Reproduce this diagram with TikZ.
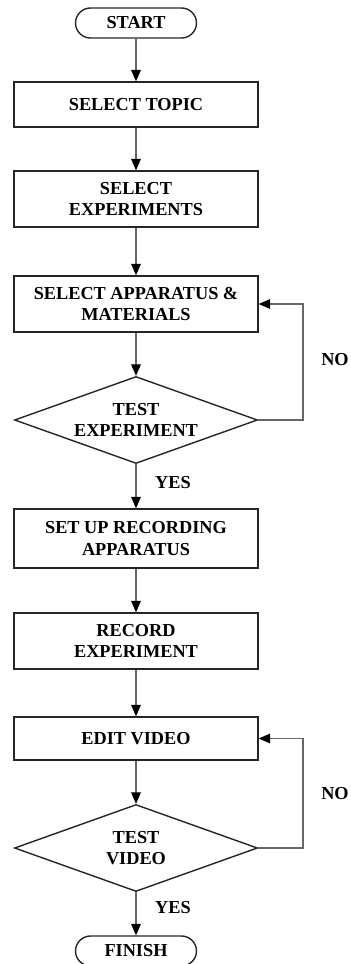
\documentclass[tikz,border=0pt]{standalone}
\usepackage{fontspec}
\setmainfont{Liberation Serif}
\usetikzlibrary{shapes.geometric,arrows.meta}

\tikzset{
  flowbox/.style={draw=black!85, line width=0.8pt, minimum width=4.88cm, inner sep=0pt, align=center, font=\fontsize{10.4}{12}\selectfont\bfseries},
  termbox/.style={flowbox, rounded corners=0.3cm, minimum width=2.42cm, minimum height=0.6cm},
  testbox/.style={flowbox, diamond, aspect=2.8, minimum width=4.86cm, minimum height=1.74cm},
  arr/.style={draw=black!60, line width=0.6pt, -{Triangle[length=6.5pt,width=5.5pt,color=black]}},
  lbl/.style={font=\fontsize{10.4}{12}\selectfont\bfseries}
}

\begin{document}
\begin{tikzpicture}
\useasboundingbox (0,0) rectangle (7,-19.28);

\node[termbox] (start) at (2.72,-0.46) {START};
\node[flowbox, minimum height=0.9cm] (topic) at (2.72,-2.09) {SELECT TOPIC};
\node[flowbox, minimum height=1.12cm] (exp) at (2.72,-3.98) {SELECT\\EXPERIMENTS};
\node[flowbox, minimum height=1.12cm] (app) at (2.72,-6.08) {SELECT APPARATUS \&\\MATERIALS};
\node[testbox] (testexp) at (2.72,-8.40) {TEST\\EXPERIMENT};
\node[flowbox, minimum height=1.18cm] (setup) at (2.72,-10.77) {SET UP RECORDING\\APPARATUS};
\node[flowbox, minimum height=1.12cm] (record) at (2.72,-12.82) {RECORD\\EXPERIMENT};
\node[flowbox, minimum height=0.86cm] (edit) at (2.72,-14.77) {EDIT VIDEO};
\node[testbox] (testvid) at (2.72,-16.96) {TEST\\VIDEO};
\node[termbox] (finish) at (2.72,-19.02) {FINISH};

\coordinate (fb1) at (6.06,-8.40);
\coordinate (fb2) at (6.06,-16.96);

\draw[arr] (start) -- (topic);
\draw[arr] (topic) -- (exp);
\draw[arr] (exp) -- (app);
\draw[arr] (app) -- (testexp);
\draw[arr] (testexp) -- (setup);
\draw[arr] (setup) -- (record);
\draw[arr] (record) -- (edit);
\draw[arr] (edit) -- (testvid);
\draw[arr] (testvid) -- (finish);
\draw[arr] (testexp.east) -- (fb1) |- (app.east);
\draw[arr] (testvid.east) -- (fb2) |- (edit.east);

\node[lbl] (no1) at (6.7,-7.2) {NO};
\node[lbl] (no2) at (6.7,-15.88) {NO};
\node[lbl, anchor=west] (yes1) at (2.98,-9.66) {YES};
\node[lbl, anchor=west] (yes2) at (2.98,-18.16) {YES};
\end{tikzpicture}
\end{document}
